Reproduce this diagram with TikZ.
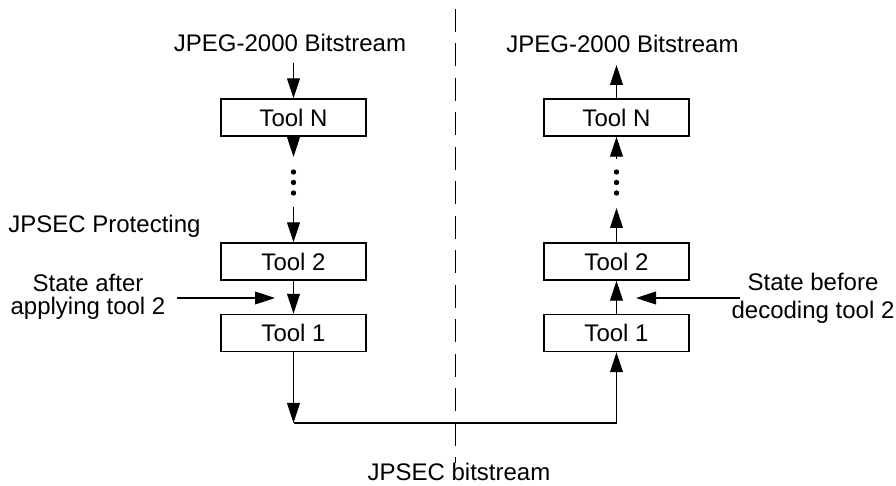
\documentclass[tikz,border=0pt]{standalone}
\usepackage{fontspec}
\setmainfont{Liberation Sans}
\usetikzlibrary{arrows.meta}
\begin{document}
\begin{tikzpicture}[x=0.5pt,y=-0.5pt,
  tool/.style={draw,line width=0.7pt,minimum width=72.5pt,minimum height=18.5pt,inner sep=0pt,font=\fontsize{12}{14}\selectfont},
  lbl/.style={inner sep=0pt,font=\fontsize{12}{14}\selectfont},
  flow/.style={line width=0.6pt,-{Triangle[length=10pt,width=6.4pt]}},
  wire/.style={line width=0.6pt},
  dot/.style={circle,fill,inner sep=0pt,minimum size=2.7pt}]
\useasboundingbox (0,0) rectangle (896,486);

% separator between protecting and unprotecting sides
\draw[line width=0.55pt,dash pattern=on 11.5pt off 5.75pt] (455.5,9) -- (455.5,463);

% protecting side (left)
\node[tool] (LN) at (293.5,117.5) {Tool N};
\node[tool] (L2) at (293.5,261.5) {Tool 2};
\node[tool] (L1) at (293.5,333) {Tool 1};
\node[dot] (Ld1) at (293.5,172) {};
\node[dot] (Ld2) at (293.5,182.5) {};
\node[dot] (Ld3) at (293.5,193) {};
\coordinate (Lin) at (293.5,63);
\coordinate (Ld0) at (293.5,157);
\coordinate (Ld4) at (293.5,207);
\coordinate (bl) at (293.5,423);

% unprotecting side (right)
\node[tool] (RN) at (616.5,117.5) {Tool N};
\node[tool] (R2) at (616.5,261.5) {Tool 2};
\node[tool] (R1) at (616.5,333) {Tool 1};
\node[dot] (Rd1) at (616.5,172) {};
\node[dot] (Rd2) at (616.5,182.5) {};
\node[dot] (Rd3) at (616.5,193) {};
\coordinate (Rout) at (616.5,65);
\coordinate (Rd0) at (616.5,159);
\coordinate (Rd4) at (616.5,208);
\coordinate (br) at (616.5,423);

% labels
\node[lbl,anchor=base] (Ltop) at (290,52) {JPEG-2000 Bitstream};
\node[lbl,anchor=base] (Rtop) at (622.5,53) {JPEG-2000 Bitstream};
\node[lbl,anchor=base west] (prot) at (8,233) {JPSEC Protecting};
\node[lbl,anchor=base] (sa1) at (88,292) {State after};
\node[lbl,anchor=base] (sa2) at (88,315) {applying tool 2};
\node[lbl,anchor=base] (sb1) at (813,291) {State before};
\node[lbl,anchor=base] (sb2) at (813,319) {decoding tool 2};
\node[lbl,anchor=base] (bits) at (459,481) {JPSEC bitstream};
\coordinate (saS) at (177,298);
\coordinate (saT) at (275,298);
\coordinate (sbS) at (740,298);
\coordinate (sbT) at (636,298);

% left flow
\draw[flow] (Lin) -- (LN.north);
\draw[flow] (LN.south) -- (Ld0);
\draw[flow] (Ld4) -- (L2.north);
\draw[flow] (L2.south) -- (L1.north);
\draw[flow] (L1.south) -- (bl);
\draw[flow] (saS) -- (saT);

% bottom link
\draw[wire] (bl) -- (br);

% right flow
\draw[flow] (br) -- (R1.south);
\draw[flow] (R1.north) -- (R2.south);
\draw[flow] (R2.north) -- (Rd4);
\draw[flow] (Rd0) -- (RN.south);
\draw[flow] (RN.north) -- (Rout);
\draw[flow] (sbS) -- (sbT);
\end{tikzpicture}
\end{document}
